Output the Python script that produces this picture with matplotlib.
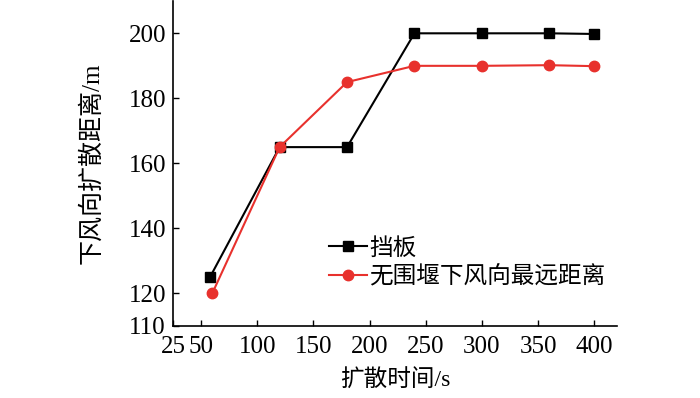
import matplotlib.pyplot as plt

# 数据
time_s = [58, 120, 180, 240, 300, 360, 400]
baffle = [125, 165, 165, 200, 200, 200, 199.8]
time_red = [60, 120, 180, 240, 300, 360, 400]
no_weir = [120, 165, 185, 190, 190, 190.2, 189.9]
xticks = [25, 50, 100, 150, 200, 250, 300, 350, 400]
yticks = [110, 120, 140, 160, 180, 200]

plt.rcParams['font.family'] = ['Liberation Serif', 'Noto Sans CJK SC']
plt.rcParams['font.size'] = 18

fig = plt.figure(figsize=(7, 3.98), dpi=100)
ax = fig.add_axes([0.247, 0.181, 0.634, 0.817])

ax.plot(time_s, baffle, color='black', lw=1.5, marker='s', ms=7, label='挡板')
ax.plot(time_red, no_weir, color='#e8312d', lw=1.5, marker='o', ms=7.5,
        label='无围堰下风向最远距离')

ax.set_xlim(25, 420)
ax.set_ylim(110, 210)
ax.set_xticks(xticks)
ax.set_yticks(yticks)
ax.tick_params(direction='in', length=4, width=1)
ax.tick_params(axis='x', pad=7)
ax.tick_params(axis='y', pad=5)
ax.spines['top'].set_visible(False)
ax.spines['right'].set_visible(False)
for s in ['left', 'bottom']:
    ax.spines[s].set_linewidth(1.2)

ax.set_xlabel('扩散时间/s', fontsize=17, labelpad=9)
ax.set_ylabel('下风向扩散距离/m', fontsize=18, labelpad=18)

ax.legend(loc='upper left', bbox_to_anchor=(0.33, 0.30), frameon=False,
          handlelength=1.6, handletextpad=0.1, labelspacing=0.25,
          borderaxespad=0, fontsize=17)

fig.savefig('out.png', dpi=100)
